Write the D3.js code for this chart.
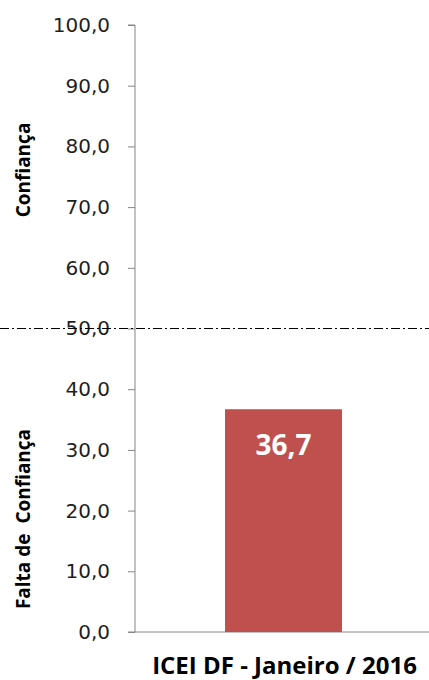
<!DOCTYPE html>
<html>
<head>
<meta charset="utf-8">
<script src="https://cdn.jsdelivr.net/npm/d3@7"></script>
<style>
  body { margin: 0; background: #fff; }
</style>
</head>
<body>
<div id="chartArea"></div>
<script>
// data
var categories = ['ICEI DF - Janeiro / 2016'];
var values = [36.7];
var tickValues = [0, 10, 20, 30, 40, 50, 60, 70, 80, 90, 100];
var threshold = 50;
var zoneLabels = ['Confiança', 'Falta de  Confiança'];

var width = 429, height = 680;
var margin = { left: 135, top: 25, right: -3, bottom: 48 };

var svg = d3.select('#chartArea').append('svg')
  .attr('width', width)
  .attr('height', height);

var y = d3.scaleLinear()
  .domain([0, 100])
  .range([height - margin.bottom, margin.top]);

var x = d3.scaleBand()
  .domain(categories)
  .range([margin.left, width - margin.right])
  .padding(0.435);

var fmt = function (d) { return d3.format('.1f')(d).replace('.', ','); };

// y axis
var yAxis = svg.append('g')
  .attr('transform', 'translate(' + margin.left + ',0)')
  .call(d3.axisLeft(y).tickValues(tickValues).tickSize(7).tickPadding(18).tickFormat(fmt));

yAxis.select('.domain').attr('stroke', '#868686').attr('d', 'M-7,' + y(100) + 'H0V' + y(0));
yAxis.selectAll('.tick line').attr('stroke', '#868686');
yAxis.selectAll('.tick text')
  .attr('fill', '#1f1f1f')
  .style('font-family', 'DejaVu Sans')
  .style('font-size', '20px');

// x axis
svg.append('line')
  .attr('x1', margin.left - 7)
  .attr('x2', width)
  .attr('y1', y(0))
  .attr('y2', y(0))
  .attr('stroke', '#868686');

// bars
svg.selectAll('rect.bar')
  .data(values)
  .enter()
  .append('rect')
  .attr('class', 'bar')
  .attr('x', function (d, i) { return x(categories[i]); })
  .attr('y', function (d) { return y(d); })
  .attr('width', x.bandwidth())
  .attr('height', function (d) { return y(0) - y(d); })
  .attr('fill', '#C0504D');

// bar labels
svg.selectAll('text.lbl')
  .data(values)
  .enter()
  .append('text')
  .attr('class', 'lbl')
  .attr('x', function (d, i) { return x(categories[i]) + x.bandwidth() / 2; })
  .attr('y', function (d) { return y(d) + 46; })
  .attr('text-anchor', 'middle')
  .attr('fill', '#fff')
  .style('font-family', 'Open Sans')
  .style('font-weight', 'bold')
  .style('font-size', '28px')
  .text(function (d) { return fmt(d); });

// threshold line
svg.append('line')
  .attr('x1', 0)
  .attr('x2', width)
  .attr('y1', y(threshold))
  .attr('y2', y(threshold))
  .attr('stroke', '#000')
  .attr('stroke-width', 1.2)
  .attr('stroke-dasharray', '9,3,2,3');

// category label
svg.selectAll('text.cat')
  .data(categories)
  .enter()
  .append('text')
  .attr('class', 'cat')
  .attr('x', function (d) { return x(d) + x.bandwidth() / 2 + 1; })
  .attr('y', 674)
  .attr('text-anchor', 'middle')
  .attr('fill', '#000')
  .style('font-family', 'Open Sans')
  .style('font-weight', 'bold')
  .style('font-size', '24px')
  .text(function (d) { return d; });

// zone labels
var zoneCenters = [170, 519];
svg.selectAll('text.zone')
  .data(zoneLabels)
  .enter()
  .append('text')
  .attr('class', 'zone')
  .attr('transform', function (d, i) { return 'translate(30,' + zoneCenters[i] + ') rotate(-90)'; })
  .attr('text-anchor', 'middle')
  .attr('fill', '#000')
  .style('font-family', 'Open Sans')
  .style('font-weight', 'bold')
  .style('font-size', '19px')
  .style('white-space', 'pre')
  .text(function (d) { return d; });
</script>
</body>
</html>
